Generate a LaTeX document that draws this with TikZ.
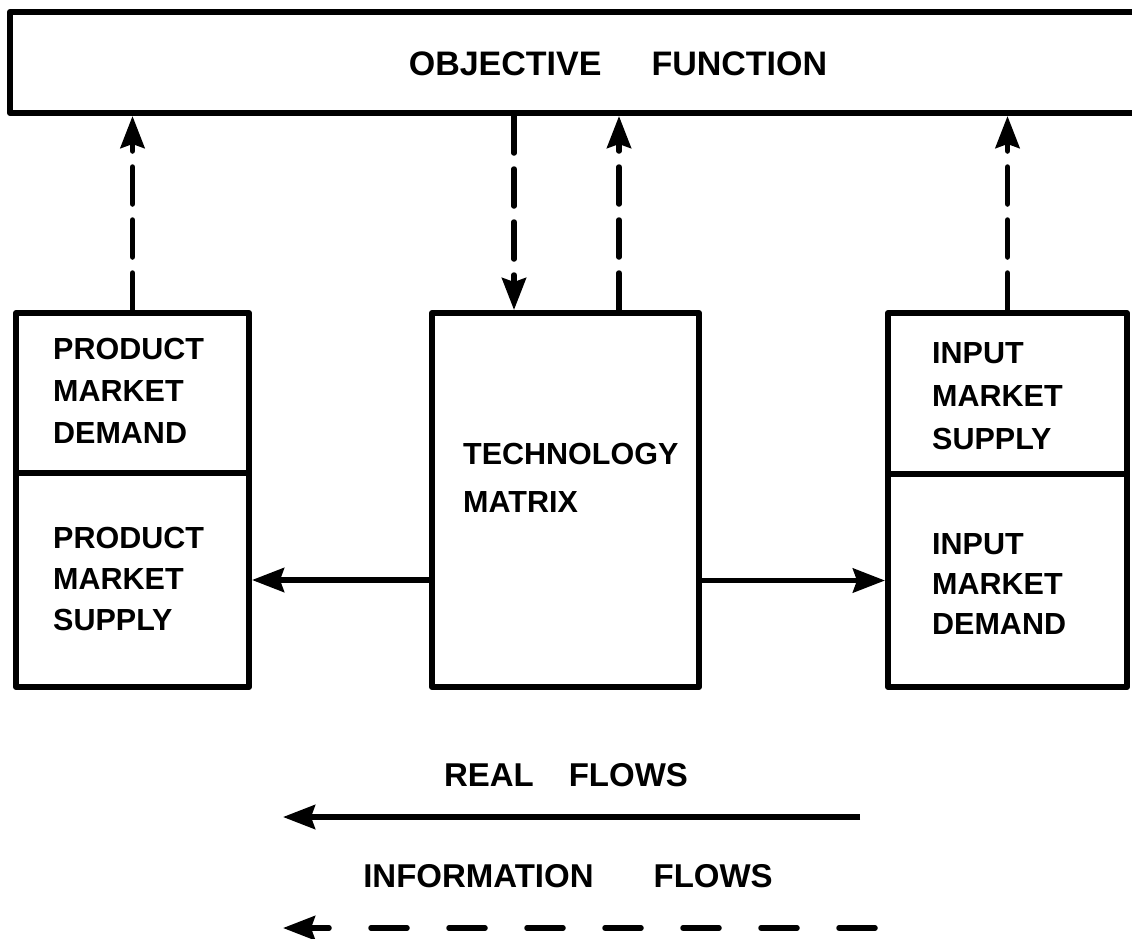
\documentclass[tikz,border=0pt]{standalone}
\usepackage{fontspec}
\setmainfont{Liberation Sans}
\usetikzlibrary{arrows.meta}
\begin{document}
\begin{tikzpicture}[x=1pt,y=-1pt,line join=round,
  boxst/.style={draw,line width=6pt,inner sep=0pt,rectangle},
  boxtext/.style={font=\fontsize{30.5}{42}\selectfont\bfseries,align=left,anchor=north west,inner sep=0pt},
  legendtext/.style={font=\fontsize{33}{36}\selectfont\bfseries,inner sep=0pt},
  tip/.style={-{Stealth[length=32pt,width=24pt,inset=4pt]}},
  info/.style={tip,line width=5.5pt,line cap=round,dash pattern=on 37pt off 16pt},
  infoleg/.style={tip,line width=5.5pt,line cap=round,dash pattern=on 36pt off 42pt},
  realflow/.style={tip,line width=5.5pt}]
\useasboundingbox (0,0) rectangle (1132,938);
\fill[white] (0,0) rectangle (1132,938);
\clip (0,0) rectangle (1132,938);
% boxes
\node[boxst,minimum width=1150pt,minimum height=101pt] (obj) at (585,62.5) {};
\node[boxst,minimum width=233pt,minimum height=160pt] (pmd) at (132.5,393) {};
\node[boxst,minimum width=233pt,minimum height=214pt] (pms) at (132.5,580) {};
\node[boxst,minimum width=267pt,minimum height=374pt] (tech) at (565.5,500) {};
\node[boxst,minimum width=239pt,minimum height=161pt] (ims) at (1007.5,393.5) {};
\node[boxst,minimum width=239pt,minimum height=213pt] (imd) at (1007.5,580.5) {};
% texts
\node[inner sep=0pt,font=\fontsize{34}{38}\selectfont\bfseries] (objt) at (618,64) {OBJECTIVE\hspace{50pt}FUNCTION};
\node[boxtext] (pmdt) at (53,338) {PRODUCT\\MARKET\\DEMAND};
\node[boxtext,font=\fontsize{30.5}{41}\selectfont\bfseries] (pmst) at (53,527) {PRODUCT\\MARKET\\SUPPLY};
\node[boxtext,font=\fontsize{30.5}{48}\selectfont\bfseries] (techt) at (463,443) {TECHNOLOGY\\MATRIX};
\node[boxtext,font=\fontsize{30.5}{43}\selectfont\bfseries] (imst) at (932,342) {INPUT\\MARKET\\SUPPLY};
\node[boxtext,font=\fontsize{30.5}{40}\selectfont\bfseries] (imdt) at (932,533) {INPUT\\MARKET\\DEMAND};
% information flows
\draw[info] (pmd.north) -- (obj.south -| pmd.north);
\coordinate (tdown) at ([xshift=85pt]tech.north west);
\coordinate (tup) at ([xshift=190pt]tech.north west);
\draw[info] (obj.south -| tdown) -- (tdown);
\draw[info] (tup) -- (obj.south -| tup);
\draw[info] (ims.north) -- (obj.south -| ims.north);
% real flows
\draw[realflow] (pms.east -| tech.west) -- (pms.east);
\draw[realflow] (imd.west -| tech.east) -- (imd.west);
% legend
\node[legendtext] (realt) at (566,775) {REAL\hspace{35pt}FLOWS};
\node[legendtext] (infot) at (568,876) {INFORMATION\hspace{60pt}FLOWS};
\coordinate (ra) at (860,817);
\coordinate (rb) at (283,817);
\draw[realflow] (ra) -- (rb);
\coordinate (ia) at (875,928);
\coordinate (ib) at (283,928);
\draw[infoleg] (ia) -- (ib);
\end{tikzpicture}
\end{document}
